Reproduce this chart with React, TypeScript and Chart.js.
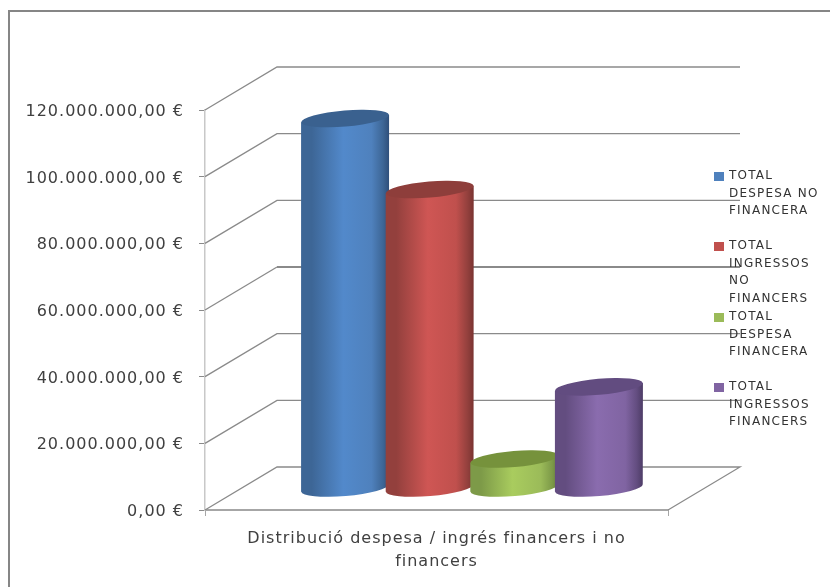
import React, { useEffect, useRef } from "react";
import { Chart, registerables } from "chart.js";

Chart.register(...registerables);

const categories = [["Distribució despesa / ingrés financers i no", "financers"]];
const seriesNames = [
  "TOTAL DESPESA NO FINANCERA",
  "TOTAL INGRESSOS NO FINANCERS",
  "TOTAL DESPESA FINANCERA",
  "TOTAL INGRESSOS FINANCERS",
];
const legendLines = [
  ["TOTAL", "DESPESA NO", "FINANCERA"],
  ["TOTAL", "INGRESSOS", "NO", "FINANCERS"],
  ["TOTAL", "DESPESA", "FINANCERA"],
  ["TOTAL", "INGRESSOS", "FINANCERS"],
];
const despesaNoFinancera = [111000000];
const ingressosNoFinancers = [89700000];
const despesaFinancera = [8850000];
const ingressosFinancers = [30500000];
const seriesValues = [despesaNoFinancera, ingressosNoFinancers, despesaFinancera, ingressosFinancers];
const baseColors = ["#4f81bd", "#c0504d", "#9bbb59", "#8064a2"];
const midColors = ["#5289cb", "#cf5654", "#a9cc5e", "#8a6cae"];
const darkColors = ["#2f4f7a", "#7a3331", "#64803a", "#4d3c66"];
const sideColors = ["#3d6696", "#93403d", "#7d9a48", "#634d80"];
const topColors = ["#3a618f", "#8e3e3b", "#76923c", "#624c80"];

const FONT = "'DejaVu Sans', sans-serif";
const TEXT = "#404040";
const GRID = "#8a8a8a";
const DEPTH_X = 72;
const DEPTH_Y = 43;
const BAR_DX = 35.5;
const BAR_DY = -21.5;
const TILT = (-5 * Math.PI) / 180;
const RY = 8;

const euro = (v: number) =>
  v.toLocaleString("de-DE", { minimumFractionDigits: 2, maximumFractionDigits: 2 }) + " €";

const walls = {
  id: "walls",
  beforeDraw(chart: any) {
    chart.ctx.letterSpacing = "1px";
  },
  beforeDatasetsDraw(chart: any) {
    const { ctx, chartArea: a, scales } = chart;
    ctx.save();
    // outer frame: only the left and top edges fall inside the picture
    ctx.strokeStyle = "#868686";
    ctx.lineWidth = 2;
    ctx.beginPath();
    ctx.moveTo(9, 587);
    ctx.lineTo(9, 11);
    ctx.lineTo(830, 11);
    ctx.stroke();
    ctx.strokeStyle = GRID;
    for (const t of scales.y.ticks) {
      const y = scales.y.getPixelForValue(t.value);
      ctx.lineWidth = 1.3;
      ctx.beginPath();
      ctx.moveTo(a.left, y);
      ctx.lineTo(a.left + DEPTH_X, y - DEPTH_Y);
      if (t.value === 60000000) {
        ctx.stroke();
        ctx.lineWidth = 2;
        ctx.beginPath();
        ctx.moveTo(a.left + DEPTH_X, y - DEPTH_Y);
      }
      ctx.lineTo(a.right + DEPTH_X, y - DEPTH_Y);
      if (t.value === 0) ctx.lineTo(a.right, y);
      ctx.stroke();
    }
    ctx.restore();
  },
};

const cylinders = {
  id: "cylinders",
  beforeDatasetsDraw(chart: any) {
    const { ctx } = chart;
    ctx.save();
    ctx.translate(BAR_DX, BAR_DY);
    chart.data.datasets.forEach((_: any, i: number) => {
      chart.getDatasetMeta(i).data.forEach((bar: any) => {
        const { x, y, base, width } = bar.getProps(["x", "y", "base", "width"], true);
        const rx = width / 2;
        const left = x - rx;
        const g = ctx.createLinearGradient(left, 0, left + width, 0);
        g.addColorStop(0, sideColors[i]);
        g.addColorStop(0.12, sideColors[i]);
        g.addColorStop(0.48, midColors[i]);
        g.addColorStop(0.8, baseColors[i]);
        g.addColorStop(0.93, sideColors[i]);
        g.addColorStop(1, darkColors[i]);
        const tiltY = rx * Math.sin(TILT);
        ctx.fillStyle = g;
        ctx.beginPath();
        ctx.moveTo(left, y - tiltY);
        ctx.lineTo(left, base - tiltY);
        ctx.ellipse(x, base, rx, RY, TILT, Math.PI, 0, true);
        ctx.lineTo(left + width, y + tiltY);
        ctx.closePath();
        ctx.fill();
        ctx.fillStyle = topColors[i];
        ctx.beginPath();
        ctx.ellipse(x, y, rx, RY, TILT, 0, Math.PI * 2);
        ctx.fill();
      });
    });
    ctx.restore();
    return false;
  },
};

const sideLegend = {
  id: "sideLegend",
  afterDraw(chart: any) {
    const { ctx } = chart;
    const tops = [176, 246, 317, 387];
    ctx.save();
    ctx.font = `12px ${FONT}`;
    ctx.letterSpacing = "1.2px";
    ctx.textBaseline = "middle";
    ctx.textAlign = "left";
    legendLines.forEach((lines, i) => {
      ctx.fillStyle = baseColors[i];
      ctx.fillRect(714, tops[i] - 4, 10, 9);
      ctx.fillStyle = "#333333";
      lines.forEach((line, j) => ctx.fillText(line, 729, tops[i] + j * 17.5));
    });
    ctx.restore();
  },
};

export default function App() {
  const ref = useRef<HTMLCanvasElement>(null);
  useEffect(() => {
    const chart = new Chart(ref.current!, {
      type: "bar",
      data: {
        labels: categories as any,
        datasets: seriesNames.map((label, i) => ({
          label,
          data: seriesValues[i],
          backgroundColor: baseColors[i],
        })),
      },
      options: {
        responsive: false,
        animation: false,
        devicePixelRatio: 1,
        layout: { padding: { left: 0, top: 110, right: 162, bottom: 0 } },
        datasets: { bar: { categoryPercentage: 0.731, barPercentage: 1.04 } },
        plugins: { legend: { display: false }, tooltip: { enabled: false }, title: { display: false } },
        scales: {
          x: {
            grid: { drawOnChartArea: false, color: "#a6a6a6", tickLength: 6 },
            border: { color: "#a6a6a6", width: 2 },
            ticks: {
              color: TEXT,
              font: { family: FONT, size: 16, lineHeight: 1.44 },
              padding: 11,
              maxRotation: 0,
              autoSkip: false,
            },
            afterFit: (s: any) => { s.height = 77; },
          },
          y: {
            min: 0,
            max: 120000000,
            grid: { drawOnChartArea: false, color: "#8a8a8a", tickLength: 6 },
            border: { color: "#c8c8c8", width: 1.5 },
            ticks: {
              stepSize: 20000000,
              color: TEXT,
              font: { family: FONT, size: 16 },
              padding: 15,
              callback: (v: any) => euro(Number(v)),
            },
            afterFit: (s: any) => { s.width = 205; },
            afterUpdate: (s: any) => {
              if (s.__shifted) return;
              s.__shifted = true;
              const draw = s.drawLabels;
              s.drawLabels = function (area: any) {
                s.ctx.save();
                s.ctx.translate(0, 2);
                draw.call(s, area);
                s.ctx.restore();
              };
            },
          },
        },
      } as any,
      plugins: [walls, cylinders, sideLegend],
    });
    return () => chart.destroy();
  }, []);
  return (
    <canvas
      ref={ref}
      width={830}
      height={587}
      style={{ position: "fixed", left: 0, top: 0, width: 830, height: 587, background: "#fff" }}
    />
  );
}
